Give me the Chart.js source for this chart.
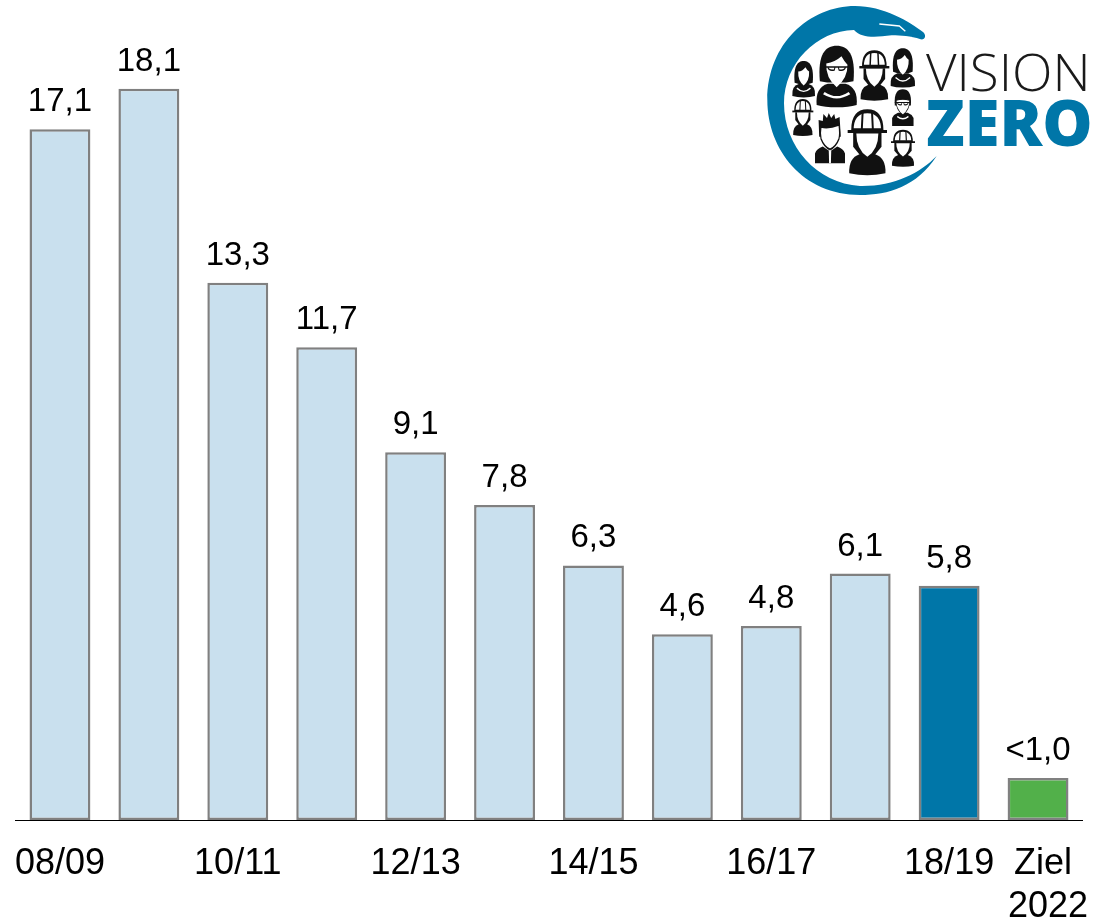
<!DOCTYPE html>
<html><head><meta charset="utf-8">
<style>
html,body{margin:0;padding:0;background:#fff;overflow:hidden}
#wrap{position:relative;width:1106px;height:920px}
canvas{position:absolute;left:0;top:0}
#logo{position:absolute;left:760px;top:0;width:346px;height:200px}
</style>
<script src="https://cdn.jsdelivr.net/npm/chart.js@4"></script>
</head><body>
<div id="wrap">
<canvas id="c" width="1106" height="920"></canvas>
<svg id="logo" viewBox="0 0 1038 600" xmlns="http://www.w3.org/2000/svg">
<defs>
<symbol id="wm" viewBox="-50 0 100 100" preserveAspectRatio="none" overflow="visible">
<path d="M-50,100 Q-54,72 -22,66 L22,66 Q54,72 50,100 Q30,104 0,104 Q-30,104 -50,100Z" fill="#111"/>
<path d="M-40,62 C-46,16 -28,0 0,0 C28,0 46,16 40,62 L22,66 L-22,66Z" fill="#111"/>
<path d="M-24,30 Q-6,30 8,18 Q16,28 24,30 Q26,56 0,70 Q-26,56 -24,30Z" fill="#fff"/>
<path d="M-28,76 Q0,94 28,76 L32,79 Q0,98 -32,79Z" fill="#fff"/>
</symbol>
<symbol id="wg" viewBox="-50 0 100 100" preserveAspectRatio="none" overflow="visible">
<path d="M-50,100 Q-54,70 -22,64 L22,64 Q54,70 50,100 Q30,104 0,104 Q-30,104 -50,100Z" fill="#111"/>
<path d="M-42,60 C-48,14 -28,0 0,0 C28,0 48,14 42,60 L24,62 L-24,62Z" fill="#111"/>
<path d="M-26,30 Q-4,28 12,18 Q20,28 27,32 Q28,54 0,70 Q-28,54 -26,30Z" fill="#fff"/>
<path d="M-30,36 L30,36 M-22,36 Q-20,43 -6,41 L-4,36 M22,36 Q20,43 6,41 L4,36" stroke="#111" stroke-width="2.5" fill="none"/>
<path d="M-30,78 Q0,92 30,78 L34,82 Q0,96 -34,82Z" fill="#fff"/>
</symbol>
<symbol id="hat" viewBox="-50 0 100 100" preserveAspectRatio="none" overflow="visible">
<path d="M-46,100 Q-48,76 -20,70 L20,70 Q48,76 46,100 Q0,106 -46,100Z" fill="#111"/>
<path d="M-36,36 L-36,58 L-18,72 L18,72 L36,58 L36,36Z" fill="#111"/>
<path d="M-38,32 Q-38,2 0,2 Q38,2 38,32Z" fill="#fff" stroke="#111" stroke-width="6"/>
<path d="M-12,4 L-14,30 M12,4 L14,30" stroke="#111" stroke-width="5" fill="none"/>
<path d="M-50,34 L50,34" stroke="#111" stroke-width="5"/>
<path d="M-28,37 L28,37 Q28,62 0,74 Q-28,62 -28,37Z" fill="#fff"/>
</symbol>
<symbol id="man" viewBox="-50 0 100 100" preserveAspectRatio="none" overflow="visible">
<path d="M-50,100 L-50,80 Q-44,70 -24,66 L0,76 L24,66 Q44,70 50,80 L50,100Z" fill="#111"/>
<path d="M-36,46 L-38,12 L-24,14 L-22,0 L-10,8 L-4,-2 L4,8 L14,0 L18,10 L32,6 L36,46Z" fill="#111"/>
<path d="M-30,26 Q-5,30 30,22 Q34,40 30,50 Q20,66 0,72 Q-20,66 -30,50 Q-34,40 -30,26Z" fill="#fff" stroke="#111" stroke-width="4"/>
<path d="M-4,76 L0,72 L4,76 L3,100 L-3,100Z" fill="#fff"/>
</symbol>
<symbol id="gl" viewBox="-50 0 100 100" preserveAspectRatio="none" overflow="visible">
<path d="M-48,100 L-48,78 Q-40,68 -22,64 L22,64 Q40,68 48,78 L48,100Z" fill="#111"/>
<path d="M-36,44 C-40,10 -24,0 0,0 C24,0 40,10 36,44Z" fill="#111"/>
<path d="M-30,30 Q0,24 30,30 Q32,54 0,70 Q-32,54 -30,30Z" fill="#fff" stroke="#111" stroke-width="3"/>
<path d="M-36,36 L36,36 M-24,36 Q-22,44 -6,42 L-4,36 M24,36 Q22,44 6,42 L4,36" stroke="#111" stroke-width="3" fill="none"/>
<path d="M-24,72 Q0,84 24,72 L26,76 Q0,88 -26,76Z" fill="#fff"/>
</symbol>
</defs>
<path d="M530,468 C470,560 385,585 300,585 C130,585 22,450 22,300 C22,130 150,18 285,18 C370,18 450,65 490,97 C500,108 495,120 482,118 C450,108 425,106 395,106 C345,112 305,115 282,90 C170,92 72,190 72,310 C72,440 170,550 300,558 C400,560 480,520 530,468Z" fill="#0076a8"/>
<path d="M358,72 L418,78 L436,94 M424,118 L455,112 M420,126 L446,122" stroke="#fff" stroke-width="4" fill="none"/>
<use href="#wm" x="97" y="183" width="68" height="105"/>
<use href="#wg" x="170" y="137" width="120" height="178"/>
<use href="#hat" x="298" y="152" width="90" height="146"/>
<use href="#wm" x="392" y="145" width="73" height="113"/>
<use href="#hat" x="97" y="298" width="63" height="107"/>
<use href="#man" x="165" y="342" width="90" height="148"/>
<use href="#hat" x="263" y="330" width="118" height="190"/>
<use href="#gl" x="395" y="268" width="67" height="110"/>
<use href="#hat" x="393" y="390" width="72" height="107"/>
<text x="498" y="274" font-family="'Open Sans',Lato,sans-serif" font-weight="300" font-size="154" fill="#1a1a1a" textLength="494" lengthAdjust="spacingAndGlyphs">VISION</text>
<text x="498" y="439" font-family="'Open Sans',Lato,sans-serif" font-weight="800" font-size="190" fill="#0076a8" textLength="500" lengthAdjust="spacingAndGlyphs">ZERO</text>
</svg>
</div>
<script>
const categories = ["08/09","09/10","10/11","11/12","12/13","13/14","14/15","15/16","16/17","17/18","18/19",[" Ziel","  2022"]];
const shownTicks = [0,2,4,6,8,10,11];
const values = [17.1,18.1,13.3,11.7,9.1,7.8,6.3,4.6,4.8,6.1,5.8,1.04];
const valueLabels = ["17,1","18,1","13,3","11,7","9,1","7,8","6,3","4,6","4,8","6,1","5,8","<1,0"];
const barColors = ["#c9e0ee","#c9e0ee","#c9e0ee","#c9e0ee","#c9e0ee","#c9e0ee","#c9e0ee","#c9e0ee","#c9e0ee","#c9e0ee","#0076a8","#52b04a"];
const FONT = "'Liberation Sans', Arial, sans-serif";

const valueLabelPlugin = {
  id:'valueLabels',
  afterDatasetsDraw(chart){
    const ctx = chart.ctx, meta = chart.getDatasetMeta(0);
    ctx.save();
    ctx.font = "33px " + FONT;
    ctx.fillStyle = "#000";
    ctx.textAlign = "center";
    ctx.textBaseline = "alphabetic";
    meta.data.forEach((bar,i)=>ctx.fillText(valueLabels[i], bar.x, bar.y - 18));
    ctx.restore();
  }
};

new Chart(document.getElementById('c'),{
  type:'bar',
  data:{labels:categories,datasets:[{data:values,backgroundColor:barColors,borderColor:"#808080",borderWidth:2.5,borderSkipped:false,barPercentage:0.685,categoryPercentage:1}]},
  plugins:[valueLabelPlugin],
  options:{
    responsive:false,animation:false,
    layout:{autoPadding:false,padding:{left:15.5,right:23.5,top:12,bottom:0}},
    plugins:{legend:{display:false},tooltip:{enabled:false},title:{display:false}},
    scales:{
      y:{display:false,min:0,max:20},
      x:{
        grid:{display:false,drawTicks:false},
        border:{color:"#000",width:1,z:1},
        afterFit(s){s.height=100;s.paddingLeft=0;s.paddingRight=0;},
        ticks:{
          autoSkip:false,maxRotation:0,minRotation:0,padding:22,color:"#000",
          font:{family:FONT,size:36,lineHeight:1.2},
          callback(v,i){return shownTicks.includes(i)?this.getLabelForValue(v):"";}
        }
      }
    }
  }
});
</script>
</body></html>
